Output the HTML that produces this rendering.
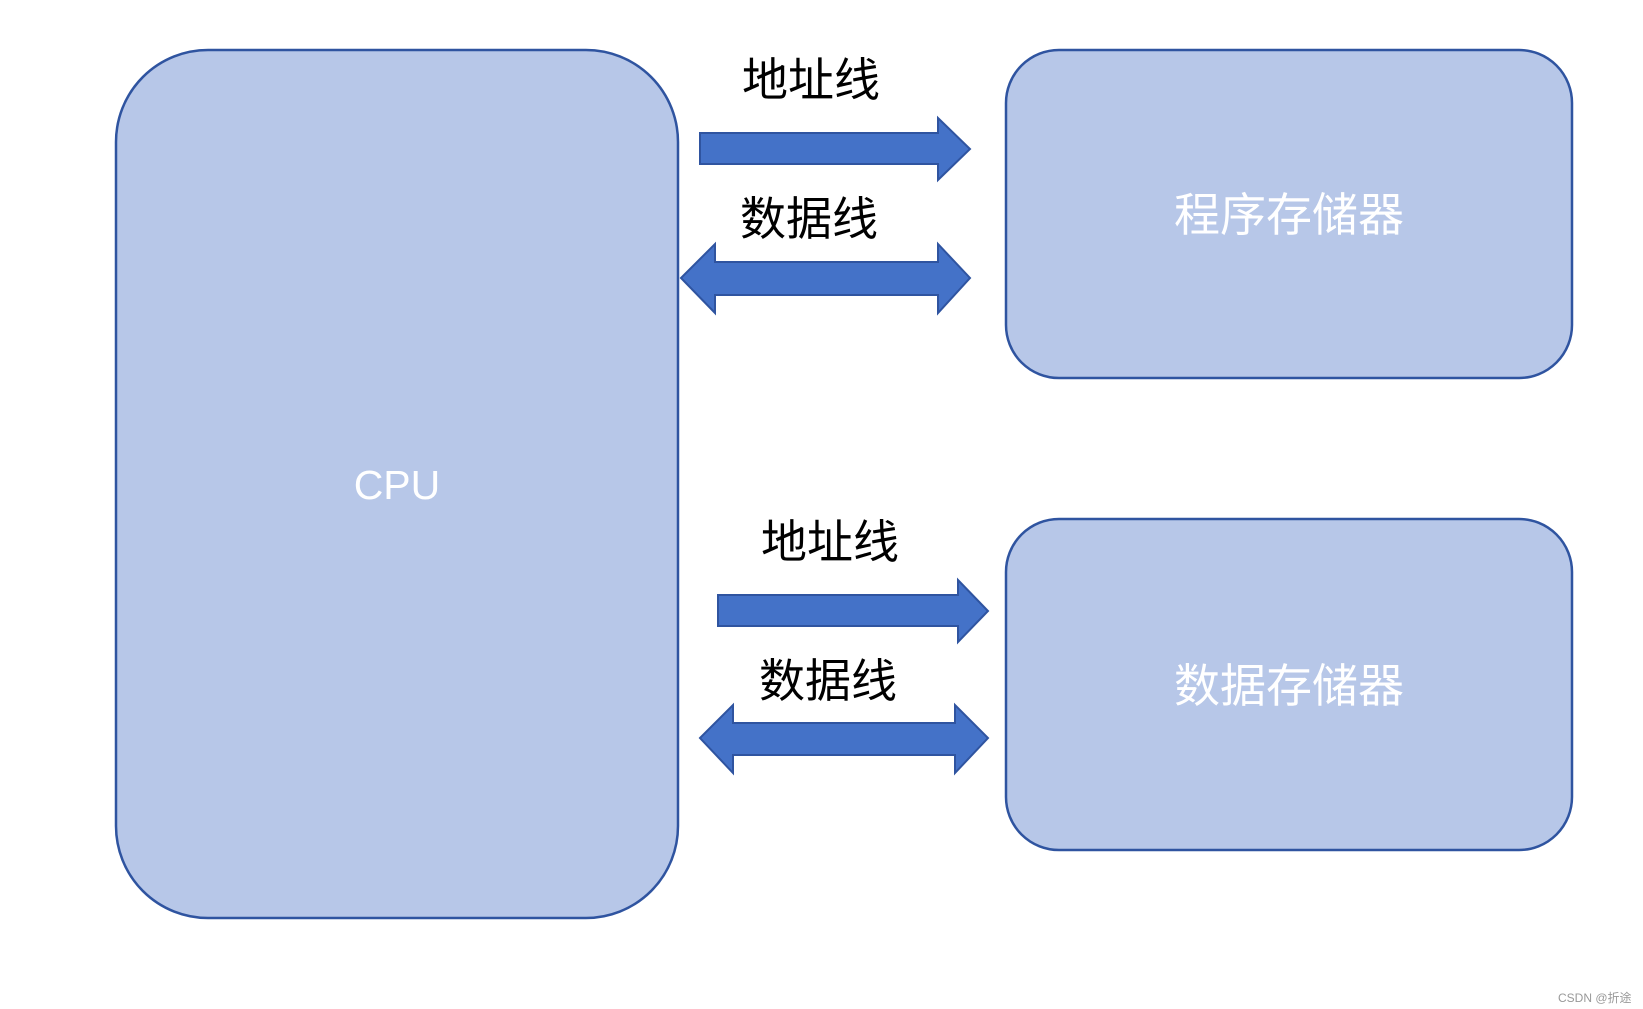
<!DOCTYPE html>
<html><head><meta charset="utf-8"><style>
html,body{margin:0;padding:0;background:#fff;width:1643px;height:1009px;overflow:hidden}
svg{display:block}
text{font-family:"Liberation Sans","Noto Sans CJK SC",sans-serif}
</style></head><body>
<svg width="1643" height="1009" viewBox="0 0 1643 1009" xmlns="http://www.w3.org/2000/svg">
<rect x="116" y="50" width="562" height="868" rx="92" ry="92" fill="#b7c7e8" stroke="#2f54a0" stroke-width="2.5"/>
<rect x="1006" y="50" width="566" height="328" rx="53" ry="53" fill="#b7c7e8" stroke="#2f54a0" stroke-width="2.5"/>
<rect x="1006" y="519" width="566" height="331" rx="53" ry="53" fill="#b7c7e8" stroke="#2f54a0" stroke-width="2.5"/>
<text x="397" y="499" font-size="41" fill="#fff" text-anchor="middle">CPU</text>
<text x="1289" y="231" font-size="46" fill="#fff" text-anchor="middle">程序存储器</text>
<text x="1289" y="702" font-size="46" fill="#fff" text-anchor="middle">数据存储器</text>
<g fill="#4472c8" stroke="#2f54a0" stroke-width="2">
<polygon points="700,133 938,133 938,118 970,149 938,180 938,164 700,164"/>
<polygon points="681,278 715,244 715,262 938,262 938,244 970,278 938,313 938,295 715,295 715,313"/>
<polygon points="718,595 958,595 958,580 988,611 958,642 958,626 718,626"/>
<polygon points="700,738 733,705 733,723 955,723 955,705 988,738 955,773 955,755 733,755 733,773"/>
</g>
<g font-size="46" fill="#000">
<text x="742" y="96">地址线</text>
<text x="740" y="235">数据线</text>
<text x="761" y="558">地址线</text>
<text x="759" y="697">数据线</text>
</g>
<text x="1558" y="1002" font-size="12" fill="#999">CSDN @折途</text>
</svg>
</body></html>
